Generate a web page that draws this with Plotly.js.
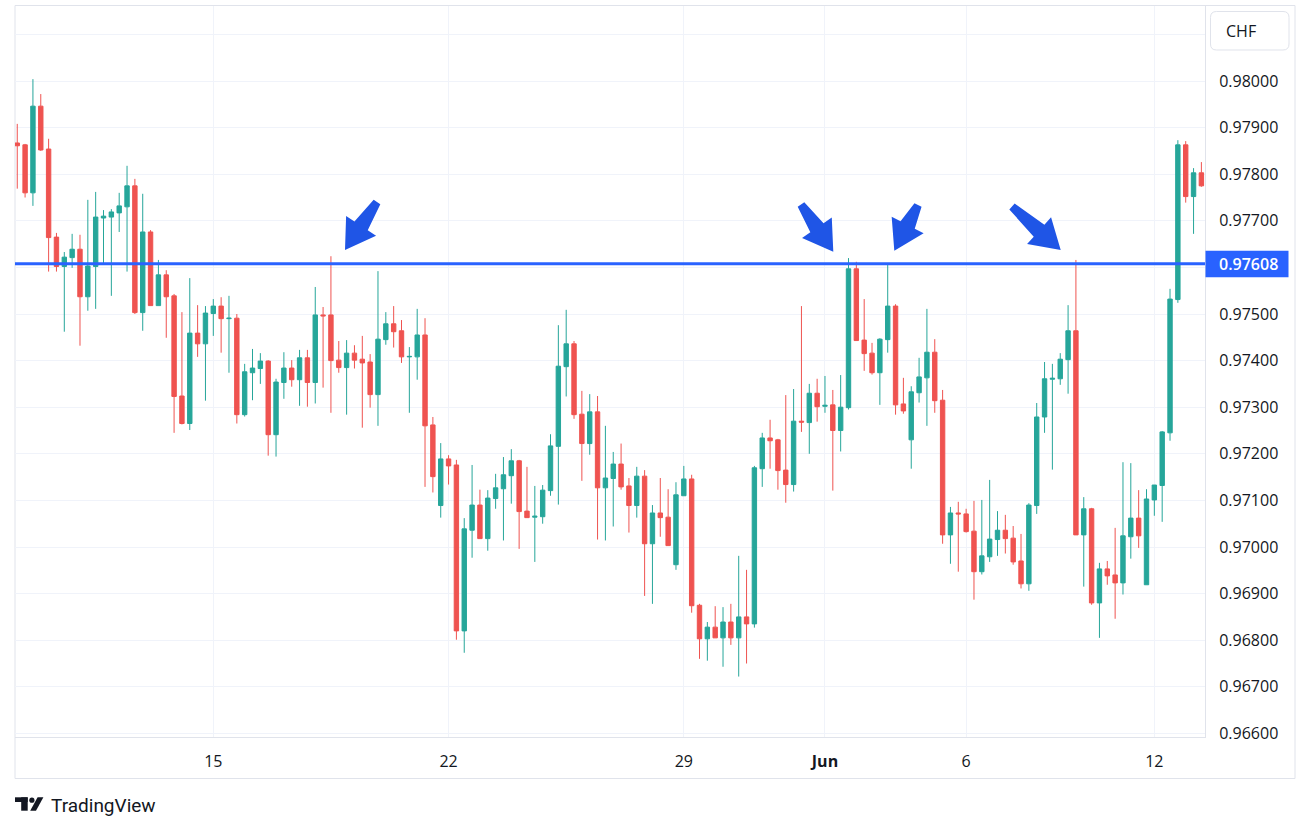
<!DOCTYPE html>
<html><head><meta charset="utf-8">
<script src="https://cdn.plot.ly/plotly-3.0.1.min.js"></script>
<style>html,body{margin:0;padding:0;background:#fff;}#chart{width:1310px;height:832px;}</style>
</head><body><div id="chart"></div>
<script>
// USD/CHF 4H candles (mid-May to mid-June 2023)
const openP = [0.97867,0.97863,0.97760,0.97946,0.97854,0.97665,0.97602,0.97621,0.97639,0.97537,
0.97602,0.97706,0.97708,0.97717,0.97730,0.97775,0.97503,0.97676,0.97518,0.97584,
0.97539,0.97324,0.97265,0.97459,0.97436,0.97501,0.97517,0.97490,0.97491,0.97284,
0.97374,0.97383,0.97399,0.97241,0.97353,0.97384,0.97359,0.97406,0.97353,0.97498,
0.97498,0.97401,0.97385,0.97416,0.97403,0.97397,0.97327,0.97445,0.97479,0.97464,
0.97408,0.97408,0.97455,0.97262,0.97089,0.97189,0.97176,0.96820,0.97036,0.97090,
0.97018,0.97104,0.97125,0.97153,0.97185,0.97077,0.97064,0.97065,0.97121,0.97216,
0.97387,0.97436,0.97285,0.97222,0.97290,0.97127,0.97147,0.97178,0.97131,0.97089,
0.97152,0.97007,0.97073,0.97064,0.96962,0.97110,0.97146,0.96875,0.96803,0.96828,
0.96805,0.96839,0.96805,0.96850,0.96835,0.97168,0.97234,0.97230,0.97165,0.97134,
0.97270,0.97267,0.97330,0.97302,0.97305,0.97250,0.97299,0.97597,0.97444,0.97416,
0.97374,0.97445,0.97517,0.97307,0.97230,0.97331,0.97363,0.97418,0.97315,0.97026,
0.97073,0.97071,0.97034,0.96947,0.96979,0.97016,0.97036,0.97019,0.96970,0.96921,
0.97089,0.97279,0.97360,0.97361,0.97402,0.97464,0.97026,0.97082,0.96880,0.96953,
0.96940,0.96923,0.97022,0.97062,0.96919,0.97101,0.97132,0.97245,0.97531,0.97863,
0.97752,0.97803];
const highP = [0.97908,0.97865,0.98004,0.97972,0.97876,0.97674,0.97633,0.97672,0.97670,0.97745,
0.97762,0.97723,0.97725,0.97760,0.97818,0.97790,0.97758,0.97680,0.97616,0.97594,
0.97543,0.97504,0.97577,0.97519,0.97517,0.97532,0.97536,0.97539,0.97500,0.97393,
0.97425,0.97416,0.97401,0.97361,0.97418,0.97401,0.97423,0.97423,0.97558,0.97515,
0.97624,0.97442,0.97444,0.97433,0.97453,0.97414,0.97592,0.97504,0.97517,0.97487,
0.97429,0.97511,0.97491,0.97279,0.97223,0.97197,0.97187,0.97062,0.97176,0.97123,
0.97122,0.97157,0.97193,0.97210,0.97187,0.97172,0.97131,0.97133,0.97242,0.97476,
0.97509,0.97442,0.97335,0.97328,0.97324,0.97260,0.97204,0.97222,0.97148,0.97172,
0.97165,0.97090,0.97148,0.97124,0.97139,0.97174,0.97155,0.96878,0.96839,0.96873,
0.96871,0.96878,0.96981,0.96951,0.97174,0.97245,0.97273,0.97232,0.97326,0.97339,
0.97517,0.97350,0.97361,0.97367,0.97337,0.97369,0.97620,0.97612,0.97532,0.97438,
0.97448,0.97607,0.97521,0.97363,0.97345,0.97406,0.97511,0.97446,0.97337,0.97086,
0.97097,0.97082,0.97099,0.97101,0.97144,0.97077,0.97069,0.97045,0.97028,0.97094,
0.97309,0.97397,0.97393,0.97416,0.97519,0.97616,0.97107,0.97084,0.96966,0.96970,
0.97041,0.97182,0.97180,0.97122,0.97124,0.97133,0.97249,0.97554,0.97873,0.97871,
0.97813,0.97826];
const lowP = [0.97769,0.97750,0.97732,0.97850,0.97591,0.97591,0.97462,0.97599,0.97432,0.97507,
0.97511,0.97609,0.97539,0.97676,0.97591,0.97500,0.97464,0.97518,0.97518,0.97449,
0.97245,0.97263,0.97251,0.97408,0.97314,0.97453,0.97417,0.97374,0.97265,0.97280,
0.97315,0.97350,0.97196,0.97194,0.97318,0.97344,0.97303,0.97301,0.97308,0.97342,
0.97288,0.97374,0.97284,0.97383,0.97256,0.97299,0.97260,0.97434,0.97428,0.97395,
0.97288,0.97359,0.97129,0.97117,0.97063,0.97134,0.96801,0.96773,0.96977,0.97018,
0.96992,0.97082,0.97014,0.97093,0.96996,0.97063,0.96968,0.97050,0.97110,0.97091,
0.97323,0.97275,0.97142,0.97198,0.97016,0.97014,0.97044,0.97123,0.97031,0.97063,
0.96895,0.96878,0.97022,0.97003,0.96951,0.97110,0.96859,0.96760,0.96756,0.96805,
0.96743,0.96790,0.96722,0.96750,0.96827,0.97129,0.97168,0.97123,0.97095,0.97119,
0.97247,0.97200,0.97269,0.97288,0.97121,0.97205,0.97295,0.97443,0.97378,0.97370,
0.97305,0.97417,0.97284,0.97286,0.97168,0.97310,0.97260,0.97288,0.97007,0.96964,
0.96947,0.97031,0.96887,0.96941,0.96968,0.96981,0.96986,0.96962,0.96911,0.96906,
0.97071,0.97245,0.97166,0.97348,0.97329,0.97026,0.96915,0.96876,0.96805,0.96919,
0.96846,0.96898,0.96975,0.96998,0.96919,0.97067,0.97054,0.97228,0.97524,0.97739,
0.97672,0.97773];
const closeP = [0.97861,0.97760,0.97946,0.97852,0.97664,0.97602,0.97622,0.97639,0.97537,0.97603,
0.97708,0.97710,0.97719,0.97732,0.97775,0.97503,0.97676,0.97518,0.97584,0.97537,
0.97323,0.97265,0.97459,0.97436,0.97502,0.97517,0.97490,0.97491,0.97284,0.97376,
0.97384,0.97399,0.97241,0.97354,0.97384,0.97359,0.97406,0.97353,0.97498,0.97496,
0.97400,0.97385,0.97416,0.97401,0.97395,0.97327,0.97446,0.97479,0.97462,0.97408,
0.97409,0.97455,0.97260,0.97151,0.97189,0.97174,0.96820,0.97039,0.97090,0.97018,
0.97105,0.97127,0.97155,0.97185,0.97076,0.97063,0.97066,0.97122,0.97217,0.97388,
0.97436,0.97284,0.97222,0.97290,0.97127,0.97148,0.97178,0.97129,0.97089,0.97152,
0.97007,0.97073,0.97063,0.97003,0.97112,0.97146,0.96874,0.96803,0.96828,0.96805,
0.96839,0.96805,0.96850,0.96835,0.97170,0.97234,0.97228,0.97164,0.97134,0.97270,
0.97268,0.97330,0.97301,0.97304,0.97250,0.97300,0.97597,0.97443,0.97415,0.97374,
0.97446,0.97517,0.97305,0.97292,0.97333,0.97365,0.97418,0.97314,0.97026,0.97073,
0.97071,0.97033,0.96947,0.96981,0.97017,0.97036,0.97018,0.96968,0.96921,0.97090,
0.97279,0.97361,0.97362,0.97403,0.97464,0.97026,0.97082,0.96880,0.96953,0.96938,
0.96923,0.97024,0.97062,0.97024,0.97103,0.97133,0.97247,0.97532,0.97863,0.97752,
0.97803,0.97775];
// time axis: bar index of the first bar of each labelled day
const dayTickIdx = [25, 55, 85, 103, 121, 145];
const dayTickLabels = ['15', '22', '29', '<b>Jun</b>', '6', '12'];
// price axis
const priceTicks = [0.966,0.967,0.968,0.969,0.970,0.971,0.972,0.973,0.974,0.975,0.976,0.977,0.978,0.979,0.980,0.981];
const priceLabels = ['0.96600','0.96700','0.96800','0.96900','0.97000','0.97100','0.97200','0.97300','0.97400','0.97500','','0.97700','0.97800','0.97900','0.98000',''];
const levelPrice = 0.97608;
const levelLabel = '0.97608';
const currency = 'CHF';

const barIdx = openP.map((_, i) => i);

// page geometry (pixels)
const PL = 15, PR = 1205, PT = 6, PB = 737;
const W = PR - PL, H = PB - PT;
const px = x => (x - PL) / W;
const py = y => (PB - y) / H;

function arrowPath(T, P) {
  const dx = P[0] - T[0], dy = P[1] - T[1], len = Math.hypot(dx, dy);
  const ux = dx / len, uy = dy / len, nx = -uy, ny = ux;
  const hl = 29, hw = 18, w0 = 4, w1 = 8;
  const J = [P[0] - ux * hl, P[1] - uy * hl];
  const pts = [
    [T[0] + nx * w0, T[1] + ny * w0], [J[0] + nx * w1, J[1] + ny * w1], [J[0] + nx * hw, J[1] + ny * hw],
    P, [J[0] - nx * hw, J[1] - ny * hw], [J[0] - nx * w1, J[1] - ny * w1], [T[0] - nx * w0, T[1] - ny * w0]];
  return 'M' + pts.map(p => px(p[0]).toFixed(5) + ',' + py(p[1]).toFixed(5)).join('L') + 'Z';
}
function roundRect(x0, y0, x1, y1, r) {
  const P = (x, y) => px(x).toFixed(5) + ',' + py(y).toFixed(5);
  return 'M' + P(x0 + r, y0) + 'L' + P(x1 - r, y0) + 'Q' + P(x1, y0) + ' ' + P(x1, y0 + r) +
    'L' + P(x1, y1 - r) + 'Q' + P(x1, y1) + ' ' + P(x1 - r, y1) +
    'L' + P(x0 + r, y1) + 'Q' + P(x0, y1) + ' ' + P(x0, y1 - r) +
    'L' + P(x0, y0 + r) + 'Q' + P(x0, y0) + ' ' + P(x0 + r, y0) + 'Z';
}

const arrowColor = '#1f55e6';
const arrows = [
  [[377, 202], [345, 250]],
  [[801, 204.5], [833.3, 251.7]],
  [[918, 205], [894.3, 250.7]],
  [[1012, 206.5], [1060.7, 250]]
];

const shapes = [
  // outer frame
  {type:'rect', xref:'paper', yref:'paper', x0:px(15), x1:px(1295), y0:py(778.5), y1:py(5.5),
   line:{color:'#e0e3eb', width:1}, layer:'below'},
  // price label box
  {type:'rect', xref:'paper', yref:'paper', x0:px(1205.5), x1:px(1288.5), y0:py(277.3), y1:py(250.7),
   fillcolor:'#2962ff', line:{width:0}},
  // currency box
  {type:'path', xref:'paper', yref:'paper', path:roundRect(1210.5, 11.5, 1289, 50, 6),
   fillcolor:'#ffffff', line:{color:'#e0e3eb', width:1}},
  // TradingView logo
  {type:'rect', xref:'paper', yref:'paper', x0:px(15), x1:px(27.7), y0:py(802), y1:py(797.3),
   fillcolor:'#131722', line:{width:0}},
  {type:'rect', xref:'paper', yref:'paper', x0:px(21.2), x1:px(27.7), y0:py(810.7), y1:py(797.3),
   fillcolor:'#131722', line:{width:0}},
  {type:'circle', xref:'paper', yref:'paper', x0:px(29.3), x1:px(34.5), y0:py(802.8), y1:py(797.6),
   fillcolor:'#131722', line:{width:0}},
  {type:'path', xref:'paper', yref:'paper',
   path:'M'+px(37.6)+','+py(797.3)+'L'+px(43.4)+','+py(797.3)+'L'+px(36)+','+py(810.7)+'L'+px(30.2)+','+py(810.7)+'Z',
   fillcolor:'#131722', line:{width:0}}
];
arrows.forEach(a => shapes.push({type:'path', xref:'paper', yref:'paper', path:arrowPath(a[0], a[1]),
  fillcolor:arrowColor, line:{width:0}, layer:'above'}));

const txt = '#131722';
const fontFam = '"Open Sans", Roboto, sans-serif';

const annotations = [
  {xref:'paper', yref:'y', x:px(1216.5), y:levelPrice, xanchor:'left', yanchor:'middle', showarrow:false,
   text:levelLabel, font:{family:fontFam, size:16, color:'#ffffff', weight:600}},
  {xref:'paper', yref:'paper', x:px(1241), y:py(31), xanchor:'center', yanchor:'middle', showarrow:false,
   text:currency, font:{family:fontFam, size:16, color:txt}},
  {xref:'paper', yref:'paper', x:px(49), y:py(805), xanchor:'left', yanchor:'middle', showarrow:false,
   text:'TradingView', font:{family:'Roboto, sans-serif', size:19, color:txt}}
];

const a0 = 17.25, b0 = 7.842;
const xMin = (PL - a0) / b0, xMax = (PR - a0) / b0;

const levelTrace = {
  type:'scatter', mode:'lines', x:[xMin, xMax], y:[levelPrice, levelPrice],
  line:{color:'#2962ff', width:3}, hoverinfo:'none', cliponaxis:true
};
const candles = {
  type:'candlestick', x:barIdx, open:openP, high:highP, low:lowP, close:closeP,
  increasing:{line:{color:'#26a69a', width:1}, fillcolor:'#26a69a'},
  decreasing:{line:{color:'#ef5350', width:1}, fillcolor:'#ef5350'},
  whiskerwidth:0, hoverinfo:'none'
};

const layout = {
  width:1310, height:832,
  margin:{l:PL, r:1310 - PR, t:PT, b:832 - PB, pad:0},
  paper_bgcolor:'#ffffff', plot_bgcolor:'#ffffff',
  showlegend:false, dragmode:false,
  boxgap:0.2, boxgroupgap:0.3,
  xaxis:{type:'linear', range:[xMin, xMax], tickmode:'array', tickvals:dayTickIdx, ticktext:dayTickLabels,
    showgrid:true, gridcolor:'#f0f3fa', gridwidth:1, zeroline:false, showline:true, linecolor:'#e0e3eb', linewidth:1,
    ticks:'', ticklabelstandoff:10, tickfont:{family:fontFam, size:16, color:txt},
    rangeslider:{visible:false}, fixedrange:true},
  yaxis:{side:'right', range:[0.98 - (PB - 81) / 46600, 0.98 + (81 - PT) / 46600], tickmode:'array',
    tickvals:priceTicks, ticktext:priceLabels,
    showgrid:true, gridcolor:'#f0f3fa', gridwidth:1, zeroline:false, showline:true, linecolor:'#e0e3eb', linewidth:1,
    ticks:'', ticklabelstandoff:10, tickfont:{family:fontFam, size:16, color:txt}, fixedrange:true},
  shapes:shapes, annotations:annotations
};

Plotly.newPlot('chart', [levelTrace, candles], layout, {displayModeBar:false, staticPlot:true});
</script>
</body></html>
